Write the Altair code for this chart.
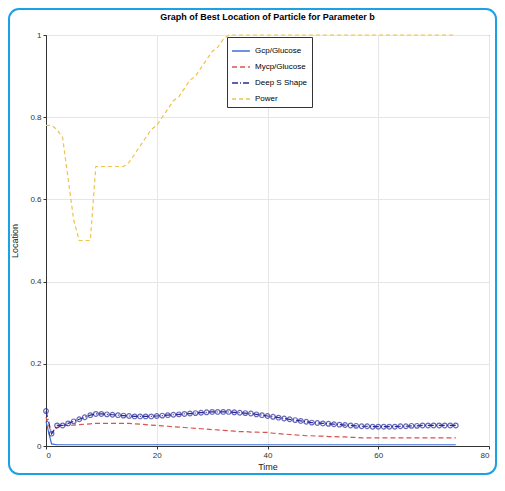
import altair as alt
import pandas as pd

time = list(range(75))

series_names = ["Gcp/Glucose", "Mycp/Glucose", "Deep S Shape", "Power"]

gcp = [0.06, 0.005] + [0.003] * 73

mycp = [0.07, 0.03, 0.045, 0.05, 0.05, 0.051, 0.052, 0.053, 0.054, 0.055,
        0.055, 0.055, 0.055, 0.055, 0.055, 0.055, 0.054, 0.053, 0.052, 0.051,
        0.05, 0.049, 0.048, 0.047, 0.046, 0.045, 0.044, 0.043, 0.042, 0.041,
        0.04, 0.039, 0.038, 0.037, 0.036, 0.035, 0.035, 0.034, 0.034, 0.033,
        0.033, 0.031, 0.03, 0.029, 0.028, 0.027, 0.026, 0.025, 0.025, 0.024,
        0.024, 0.023, 0.023, 0.022, 0.022, 0.021, 0.021, 0.02, 0.02, 0.02,
        0.02, 0.02, 0.02, 0.02, 0.02, 0.02, 0.02, 0.02, 0.02, 0.02,
        0.02, 0.02, 0.02, 0.02, 0.02]

deep = [0.085, 0.03, 0.05, 0.05, 0.055, 0.06, 0.065, 0.07, 0.075, 0.078,
        0.078, 0.077, 0.076, 0.075, 0.074, 0.073, 0.072, 0.072, 0.072, 0.072,
        0.073, 0.074, 0.075, 0.076, 0.077, 0.078, 0.079, 0.08, 0.081, 0.082,
        0.083, 0.083, 0.083, 0.083, 0.082, 0.081, 0.08, 0.079, 0.077, 0.075,
        0.073, 0.071, 0.069, 0.067, 0.065, 0.063, 0.061, 0.059, 0.057, 0.056,
        0.055, 0.054, 0.053, 0.052, 0.051, 0.05, 0.049, 0.048, 0.048, 0.047,
        0.047, 0.047, 0.047, 0.047, 0.048, 0.048, 0.049, 0.049, 0.05, 0.05,
        0.05, 0.05, 0.05, 0.05, 0.05]

power = [0.78, 0.78, 0.77, 0.75, 0.65, 0.55, 0.5, 0.5, 0.5, 0.68,
         0.68, 0.68, 0.68, 0.68, 0.68, 0.69, 0.71, 0.73, 0.75, 0.77,
         0.78, 0.8, 0.82, 0.84, 0.85, 0.87, 0.89, 0.9, 0.92, 0.94,
         0.96, 0.97, 0.99] + [1.0] * 42

colors = ["#3b6fd6", "#d9534f", "#2a2a9c", "#f0c24a"]
dashes = [[1, 0], [5, 3], [6, 2, 1, 2], [4, 3]]

rows = []
for name, vals in zip(series_names, [gcp, mycp, deep, power]):
    for t, v in zip(time, vals):
        rows.append({"Time": t, "Location": v, "Series": name})
df = pd.DataFrame(rows)

x_scale = alt.Scale(domain=[0, 80], nice=False)
y_scale = alt.Scale(domain=[0, 1], nice=False)
color_scale = alt.Scale(domain=series_names, range=colors)
dash_scale = alt.Scale(domain=series_names, range=dashes)

lines = alt.Chart(df).mark_line(strokeWidth=1.2).encode(
    x=alt.X("Time:Q", scale=x_scale,
            axis=alt.Axis(values=[0, 20, 40, 60, 80], title="Time", titlePadding=3)),
    y=alt.Y("Location:Q", scale=y_scale,
            axis=alt.Axis(values=[0, 0.2, 0.4, 0.6, 0.8, 1], format="~g",
                          title="Location", titlePadding=10)),
    color=alt.Color("Series:N", scale=color_scale, title=None,
                    legend=alt.Legend(orient="none", legendX=181, legendY=2,
                                      strokeColor="#333", fillColor="white",
                                      padding=4, labelFontSize=8, symbolSize=320,
                                      symbolStrokeWidth=1.5, rowPadding=2,
                                      labelFont="Liberation Sans")),
    strokeDash=alt.StrokeDash("Series:N", scale=dash_scale, title=None, legend=None),
)

points = alt.Chart(df[df["Series"] == "Deep S Shape"]).mark_point(
    shape="circle", size=22, filled=False, strokeWidth=1.2, color="#2a2a9c"
).encode(
    x=alt.X("Time:Q", scale=x_scale),
    y=alt.Y("Location:Q", scale=y_scale),
)

frame = alt.Chart(pd.DataFrame({"a": [0]})).mark_rect(
    fill=None, stroke="#1ba1e6", strokeWidth=2, cornerRadius=10, clip=False
).encode(
    x=alt.value(-37), x2=alt.value(450), y=alt.value(-26), y2=alt.value(439)
)

chart = alt.layer(lines, points, frame).properties(
    width=443, height=411,
    title=alt.Title("Graph of Best Location of Particle for Parameter b",
                    fontSize=9, font="Liberation Sans", fontWeight="bold", offset=-14),
    autosize=alt.AutoSizeParams(type="none"),
    padding={"left": 38, "top": 27, "right": 8, "bottom": 29},
).configure_view(
    stroke="#333", strokeWidth=1
).configure_axis(
    grid=True, gridColor="#e6e6e6", gridWidth=1,
    domainColor="#333", tickColor="#333", tickSize=3,
    labelFont="Liberation Sans", labelFontSize=8, labelColor="#333",
    titleFont="Liberation Sans", titleFontSize=9, titleFontWeight="normal", titleColor="#222"
)

chart.save("out.html", embed_options={"renderer": "svg", "actions": False})
